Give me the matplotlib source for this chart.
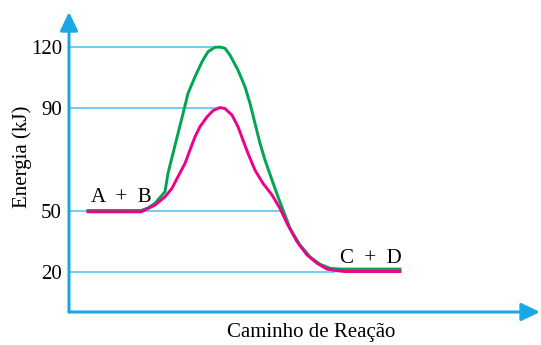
import numpy as np
import matplotlib
matplotlib.use("Agg")
import matplotlib.pyplot as plt

plt.rcParams['font.family'] = ['Liberation Serif', 'DejaVu Serif']

# reaction path coordinate (arbitrary units) and energy in kJ
path_green = [88, 141, 148, 155, 165, 168, 173, 178, 183, 188, 195, 202, 208, 215, 220,
              225, 230, 238, 245, 250, 255, 260, 265, 272, 278, 283, 290, 300, 310, 320,
              330, 340, 400]
energy_green = [50.2, 50.2, 51.2, 53.0, 57.5, 64.6, 72.3, 80.0, 87.6, 97.0, 105.3, 112.7,
                117.7, 119.9, 120, 119.4, 116.0, 108.6, 100.3, 92.1, 83.9, 76.2, 69.7,
                62.0, 55.5, 50.4, 41.4, 33.1, 27.3, 23.6, 21.6, 21.2, 21.2]

path_pink = [88, 141, 145, 155, 165, 172, 178, 185, 190, 195, 200, 207, 213, 220, 225,
             232, 238, 243, 248, 255, 263, 272, 280, 287, 297, 307, 317, 327, 337, 345, 400]
energy_pink = [49.6, 49.6, 50.4, 52.3, 55.5, 58.8, 63.3, 68.4, 73.6, 78.7, 82.6, 86.4,
               88.8, 90, 89.6, 87.1, 82.6, 77.4, 72.3, 65.8, 60.7, 56.2, 51.0, 43.9,
               34.8, 28.2, 24.1, 21.2, 20.4, 20, 20]

levels = [120, 90, 50, 20]
level_ends = [219, 220, 283, 335]

# the drawing is not to scale: piecewise mapping of energy to height
E_knots = [-100, 0, 20, 50, 90, 120, 300]
H_knots = [-201.7, 0, 40.5, 101, 204.5, 265, 628]

def fwd(e):
    return np.interp(e, E_knots, H_knots)

def inv(h):
    return np.interp(h, H_knots, E_knots)

axis_col = '#1aa7e6'
grid_col = '#4cc0ee'

fig = plt.figure(figsize=(5.41, 3.45), dpi=100)
ax = fig.add_axes([69 / 541, 33 / 345, 471 / 541, 300 / 345])
ax.set_yscale('function', functions=(fwd, inv))
ax.set_xlim(69, 540)
ax.set_ylim(0, 137.4)

for s in ax.spines.values():
    s.set_visible(False)

ax.hlines(levels, 69, level_ends, color=grid_col, lw=1.1, zorder=1)
ax.plot(path_green, energy_green, color='#00a551', lw=2.1, zorder=3,
        solid_joinstyle='round')
ax.plot(path_pink, energy_pink, color='#ec008c', lw=2.1, zorder=4,
        solid_joinstyle='round')

arrow = dict(arrowstyle='-|>,head_length=0.75,head_width=0.36', mutation_scale=15,
             lw=2.2, color=axis_col, shrinkA=0, shrinkB=0)
ax.annotate('', xy=(0, 1), xytext=(0, 0), xycoords='axes fraction',
            arrowprops=arrow, annotation_clip=False)
ax.annotate('', xy=(1, 0), xytext=(0, 0), xycoords='axes fraction',
            arrowprops=arrow, annotation_clip=False)

ax.set_xticks([])
ax.set_yticks(levels)
ax.set_yticklabels([str(v) for v in levels])
ax.tick_params(axis='y', length=0, pad=5, labelsize=15)

ax.text(121, 53.5, 'A  +  B', fontsize=15, ha='center', va='baseline')
ax.text(371, 24.1, 'C  +  D', fontsize=15, ha='center', va='baseline')

fig.text(311 / 541, 1 - 333 / 345, 'Caminho de Reação', fontsize=15,
         ha='center', va='center')
fig.text(22 / 541, 1 - 157 / 345, 'Energia (kJ)', fontsize=15, rotation=90,
         ha='center', va='center')

fig.savefig('out.png', dpi=100)
